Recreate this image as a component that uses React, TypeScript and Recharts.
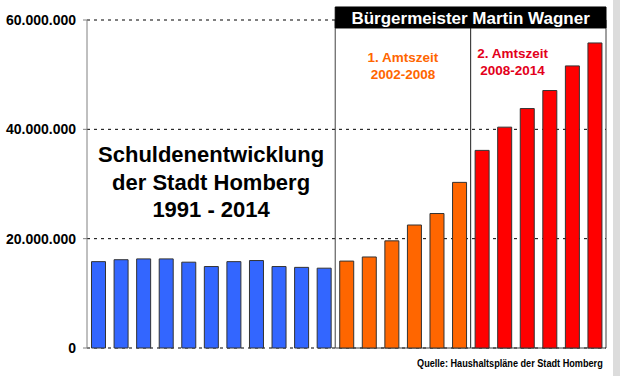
import { Bar, BarChart, CartesianGrid, Cell, ReferenceArea, XAxis, YAxis } from "recharts"

const years = [
  "1992", "1993", "1994", "1995", "1996", "1997", "1998", "1999", "2000", "2001", "2002",
  "2003", "2004", "2005", "2006", "2007", "2008",
  "2009", "2010", "2011", "2012", "2013", "2014",
]
const debt = [
  15800000, 16150000, 16300000, 16300000, 15700000, 14900000, 15800000, 16000000, 14900000, 14750000, 14600000,
  15900000, 16650000, 19600000, 22500000, 24600000, 30300000,
  36150000, 40400000, 43800000, 47100000, 51600000, 55800000,
]
const phase = [
  "vor", "vor", "vor", "vor", "vor", "vor", "vor", "vor", "vor", "vor", "vor",
  "amt1", "amt1", "amt1", "amt1", "amt1", "amt1",
  "amt2", "amt2", "amt2", "amt2", "amt2", "amt2",
]
const yTicks = [0, 20000000, 40000000, 60000000]
const titleLines = ["Schuldenentwicklung", "der Stadt Homberg", "1991 - 2014"]
const term1Lines = ["1. Amtszeit", "2002-2008"]
const term2Lines = ["2. Amtszeit", "2008-2014"]

const COLORS: Record<string, string> = { vor: "#3366ff", amt1: "#ff6600", amt2: "#ff0000" }
const FONT = "'Liberation Sans', Arial, sans-serif"

const data = years.map((year, i) => ({ year, debt: debt[i], phase: phase[i] }))
const firstOf = (p: string) => years[phase.indexOf(p)]
const lastOf = (p: string) => years[phase.lastIndexOf(p)]

const fmt = (v: number) => String(v).replace(/\B(?=(\d{3})+(?!\d))/g, ".")

function Lines({ viewBox, lines, dx, dy, gap, color, size, weight }: any) {
  const { x, y, width } = viewBox
  const cx = dx == null ? x + width / 2 : x + dx
  return (
    <text x={cx} y={y + dy} textAnchor="middle" fill={color} fontSize={size} fontWeight={weight} fontFamily={FONT}>
      {lines.map((l: string, i: number) => (
        <tspan key={i} x={cx} y={y + dy + i * gap}>{l}</tspan>
      ))}
    </text>
  )
}

export default function App() {
  return (
    <div style={{ position: "fixed", left: 0, top: 0, width: 620, height: 376, background: "#fff", fontFamily: FONT }}>
      <BarChart width={620} height={376} data={data} margin={{ top: 20, right: 14, bottom: 28, left: 0 }} barCategoryGap="20%">
        <CartesianGrid vertical={false} stroke="#000" strokeDasharray="3 4" />
        <XAxis dataKey="year" hide />
        <YAxis
          width={87}
          domain={[0, 60000000]}
          ticks={yTicks}
          tickFormatter={fmt}
          stroke="#808080"
          tickSize={4}
          tickMargin={7}
          tick={{ fill: "#000", fontSize: 14, fontWeight: "bold", fontFamily: FONT }}
        />
        <ReferenceArea
          x1={firstOf("vor")}
          x2={lastOf("vor")}
          y1={0}
          y2={60000000}
          fill="none"
          stroke="none"
          label={(p: any) => <Lines viewBox={p.viewBox} lines={titleLines} dy={142} gap={27.5} color="#000" size={22} weight="bold" />}
        />
        <ReferenceArea
          x1={firstOf("amt1")}
          x2={lastOf("amt1")}
          y1={0}
          y2={60000000}
          fill="none"
          stroke="#404040"
          label={(p: any) => <Lines viewBox={p.viewBox} lines={term1Lines} dy={42} gap={16.5} color="#ff6600" size={13.5} weight="bold" />}
        />
        <ReferenceArea
          x1={firstOf("amt2")}
          x2={lastOf("amt2")}
          y1={0}
          y2={60000000}
          fill="none"
          stroke="#404040"
          label={(p: any) => <Lines viewBox={p.viewBox} lines={term2Lines} dx={42} dy={38} gap={16.5} color="#e3001b" size={13.5} weight="bold" />}
        />
        <Bar dataKey="debt" stroke="#333" strokeWidth={1} isAnimationActive={false}>
          {data.map((d, i) => (
            <Cell key={i} fill={COLORS[d.phase]} />
          ))}
        </Bar>
        <ReferenceArea
          x1={firstOf("amt1")}
          x2={lastOf("amt2")}
          y1={58540000}
          y2={62380000}
          ifOverflow="visible"
          fill="#000"
          fillOpacity={1}
          stroke="#000"
          label={{ value: "Bürgermeister Martin Wagner", position: "center", fill: "#fff", fontSize: 17, fontWeight: "bold", fontFamily: FONT }}
        />
      </BarChart>
      <div
        style={{
          position: "absolute",
          right: 17,
          top: 357,
          fontSize: 11,
          lineHeight: "12px",
          fontWeight: "bold",
          color: "#000",
          whiteSpace: "nowrap",
          transform: "scaleX(0.83)",
          transformOrigin: "right center",
        }}
      >
        Quelle: Haushaltspläne der Stadt Homberg
      </div>
      <div style={{ position: "absolute", left: 613, top: 0, width: 7, height: 376, background: "#dcdcdc" }} />
    </div>
  )
}
